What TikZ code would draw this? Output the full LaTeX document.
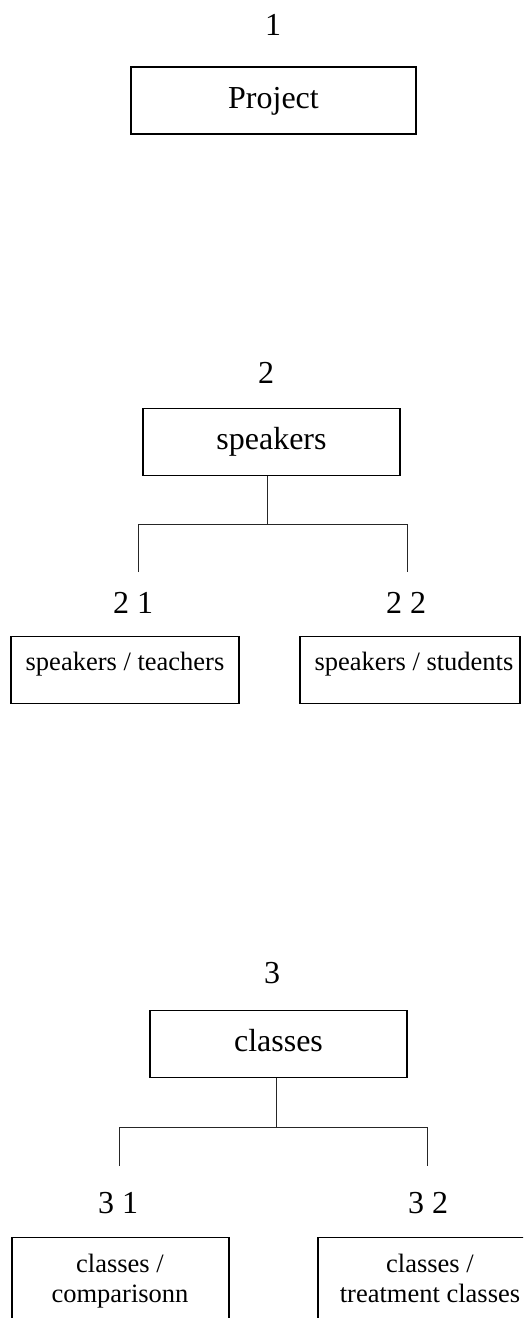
\documentclass[tikz,border=0pt]{standalone}
\usepackage{fontspec}
\setmainfont{Liberation Serif}

\begin{document}
\begin{tikzpicture}[x=1pt, y=-1pt,
        box/.style={draw, line width=1.4pt, inner sep=0pt, minimum height=67pt,
            text height=22pt, text depth=7pt, font=\fontsize{32}{37}\selectfont},
        subbox/.style={draw, line width=1.4pt, anchor=north, minimum height=67pt},
        subtext/.style={anchor=base, align=center, inner sep=0pt, font=\fontsize{26.5}{30}\selectfont},
        num/.style={anchor=base, inner sep=0pt, font=\fontsize{32}{37}\selectfont},
        link/.style={line width=1pt, black!85}]
            \path[use as bounding box, clip] (0,0) rectangle (523,1318);
            % level 1
            \node[num] (n1) at (273,35) {1};
            \node[box, minimum width=285pt] (proj) at (273.5,100.5) {Project};
            % level 2
            \node[num] (n2) at (266,383) {2};
            \node[box, minimum width=257pt] (spk) at (271.5,442) {speakers};
            \coordinate (spk-j) at (267,524.5);
            \coordinate (spk-l) at (138,572);
            \coordinate (spk-r) at (407,572);
            \draw[link] (spk.south -| spk-j) -- (spk-j);
            \draw[link] (spk-l) |- (spk-j) -| (spk-r);
            \node[num] (n21) at (133,613) {2 1};
            \node[num] (n22) at (406,613) {2 2};
            \node[subbox, minimum width=228pt] (tch) at (125,636) {};
            \node[subtext] (tch-t) at (125,670) {speakers / teachers};
            \node[subbox, minimum width=220pt] (stu) at (410,636) {};
            \node[subtext] (stu-t) at (414,670) {speakers / students};
            % level 3
            \node[num] (n3) at (272,983) {3};
            \node[box, minimum width=257pt] (cls) at (278.5,1044) {classes};
            \coordinate (cls-j) at (276,1127.5);
            \coordinate (cls-l) at (119,1166);
            \coordinate (cls-r) at (427,1166);
            \draw[link] (cls.south -| cls-j) -- (cls-j);
            \draw[link] (cls-l) |- (cls-j) -| (cls-r);
            \node[num] (n31) at (118,1213) {3 1};
            \node[num] (n32) at (428,1213) {3 2};
            % two lines: base sits on the last line
            \node[subbox, minimum width=217pt, minimum height=100pt] (cmp) at (120.5,1237) {};
            \node[subtext] (cmp-t) at (120,1302) {classes /\\comparisonn};
            \node[subbox, minimum width=224pt, minimum height=100pt] (trt) at (430,1237) {};
            \node[subtext] (trt-t) at (430,1302) {classes /\\treatment classes};
\end{tikzpicture}
\end{document}
